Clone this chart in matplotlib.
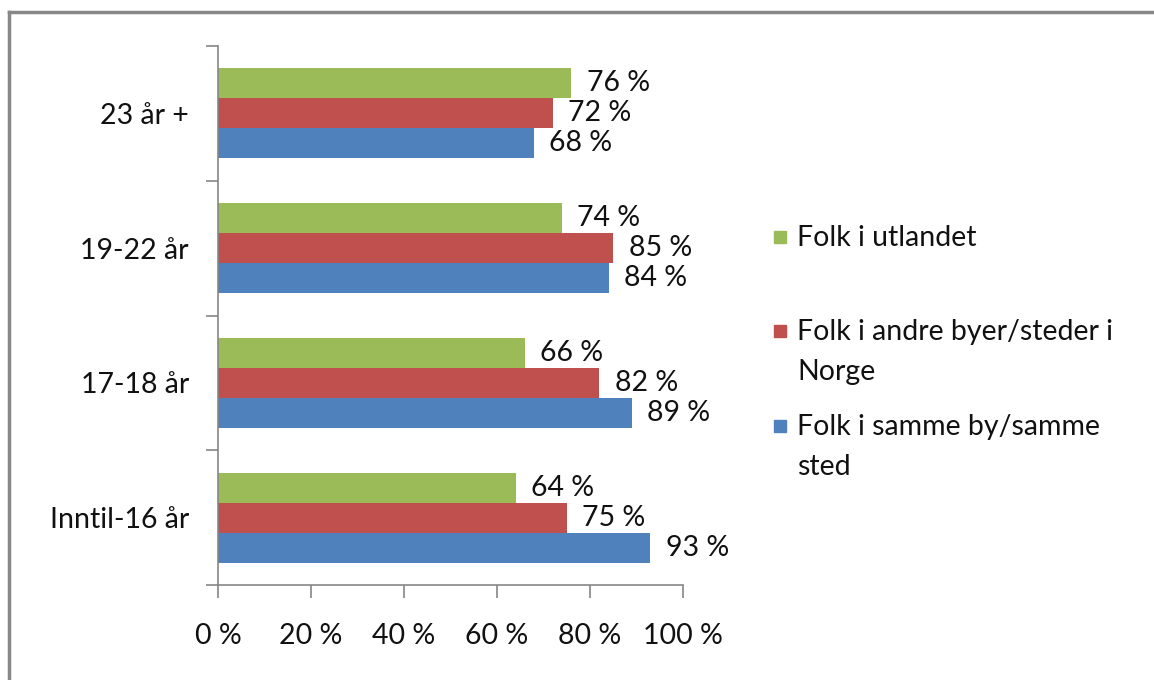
import matplotlib
matplotlib.use("Agg")
from matplotlib import pyplot as plt
from matplotlib.lines import Line2D
from matplotlib.patches import Rectangle
import numpy as np

plt.rcParams['font.family'] = ['Lato', 'DejaVu Sans']

# data, bottom to top
categories = ['Inntil-16 år', '17-18 år', '19-22 år', '23 år +']
utlandet = [64, 66, 74, 76]
norge = [75, 82, 85, 72]
samme = [93, 89, 84, 68]

series = ['Folk i utlandet', 'Folk i andre byer/steder i\nNorge', 'Folk i samme by/samme\nsted']
colors = ['#9BBB59', '#C0504D', '#4F81BD']
ticks = [0, 20, 40, 60, 80, 100]

fs = 20.5
axis_col = '#868686'


def label_bars(ax, bars, vals):
    for b, v in zip(bars, vals):
        ax.annotate('{} %'.format(v), (b.get_width(), b.get_y() + b.get_height() / 2),
                    xytext=(11, 0), textcoords='offset points',
                    ha='left', va='center', fontsize=fs, color='#111111')


def main():
    fig = plt.figure(figsize=(11.54, 6.80), dpi=100)
    ax = fig.add_axes([218 / 1154, 1 - 585 / 680, 465 / 1154, 539 / 680])

    y = np.arange(len(categories))
    h = 30 / 135
    b1 = ax.barh(y + h, utlandet, height=h, color=colors[0])
    b2 = ax.barh(y, norge, height=h, color=colors[1])
    b3 = ax.barh(y - h, samme, height=h, color=colors[2])
    label_bars(ax, b1, utlandet)
    label_bars(ax, b2, norge)
    label_bars(ax, b3, samme)

    ax.set_xlim(0, 100)
    ax.set_ylim(-0.5, len(categories) - 0.5)
    ax.set_xticks(ticks)
    ax.set_xticklabels(['{} %'.format(t) for t in ticks])
    ax.set_yticks(y)
    ax.set_yticklabels(categories)
    ax.set_yticks(np.arange(len(categories) + 1) - 0.5, minor=True)

    for s in ['top', 'right']:
        ax.spines[s].set_visible(False)
    for s in ['left', 'bottom']:
        ax.spines[s].set_color(axis_col)
        ax.spines[s].set_linewidth(1.2)

    ax.tick_params(axis='y', which='major', length=0, pad=21, labelsize=fs, colors='#111111')
    ax.tick_params(axis='y', which='minor', length=9, width=1.2, color=axis_col)
    ax.tick_params(axis='x', which='major', length=9, width=1.2, color=axis_col,
                   pad=18, labelsize=fs, labelcolor='#111111')

    # legend drawn by hand so the square sits on the first line
    leg_y = [237, 331, 426]
    for lab, c, ly in zip(series, colors, leg_y):
        fig.add_artist(Rectangle((774 / 1154, 1 - (ly + 6) / 680), 12 / 1154, 12 / 680,
                                 transform=fig.transFigure, color=c))
        fig.text(797 / 1154, 1 - (ly - 12) / 680, lab, ha='left', va='top',
                 fontsize=fs, color='#111111', linespacing=1.65)

    # outer frame, only top and left edge visible
    fig.add_artist(Line2D([9 / 1154, 1], [1 - 12 / 680] * 2, transform=fig.transFigure,
                          color='#878787', lw=2.5))
    fig.add_artist(Line2D([9 / 1154] * 2, [0, 1 - 12 / 680], transform=fig.transFigure,
                          color='#878787', lw=2.5))

    fig.savefig('out.png', dpi=100)


if __name__ == "__main__":
    main()
